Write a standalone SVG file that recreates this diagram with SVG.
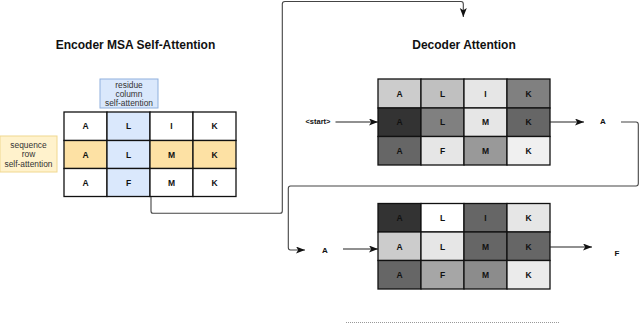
<svg xmlns="http://www.w3.org/2000/svg" width="640" height="323" viewBox="0 0 640 323">
<defs>
<marker id="arr" markerUnits="userSpaceOnUse" markerWidth="10" markerHeight="8" refX="9" refY="3.5" orient="auto">
<path d="M0,0 L9,3.5 L0,7 L2.2,3.5 Z" fill="#111"/>
</marker>
<style>
.title{font-family:"Liberation Sans",Arial,sans-serif;font-weight:bold;font-size:12px;fill:#111;text-anchor:middle}
.cell{stroke:#111;stroke-width:1.3}
.lt{font-family:"Liberation Sans",Arial,sans-serif;font-weight:bold;font-size:8.5px;fill:#111;text-anchor:middle;dominant-baseline:central}
.lab{font-family:"Liberation Sans",Arial,sans-serif;font-size:8.4px;fill:#333;text-anchor:middle;dominant-baseline:central}
.conn{fill:none;stroke:#444;stroke-width:1.1}
.arrowline{fill:none;stroke:#222;stroke-width:1.1}
</style>
</defs>
<rect width="640" height="323" fill="#fff"/>

<text class="title" x="135.5" y="49">Encoder MSA Self-Attention</text>
<text class="title" x="464" y="48.5">Decoder Attention</text>

<g id="residue-label">
<rect x="100" y="79" width="58" height="29" fill="#dae8fc" stroke="#8fb0dd" stroke-width="1"/>
<text class="lab" x="129" y="84.5">residue</text>
<text class="lab" x="129" y="94">column</text>
<text class="lab" x="129" y="103.3">self-attention</text>
</g>

<g id="sequence-label">
<rect x="0" y="136" width="57" height="36" fill="#fff2cc" stroke="#f0d890" stroke-width="1"/>
<text class="lab" x="28.5" y="145">sequence</text>
<text class="lab" x="28.5" y="154.3">row</text>
<text class="lab" x="28.5" y="163.5">self-attention</text>
</g>

<g id="encoder-grid">
<rect class="cell" x="64" y="112" width="43" height="28.5" fill="#fff"/>
<rect class="cell" x="107" y="112" width="43" height="28.5" fill="#dae8fc"/>
<rect class="cell" x="150" y="112" width="43" height="28.5" fill="#fff"/>
<rect class="cell" x="193" y="112" width="43" height="28.5" fill="#fff"/>
<rect class="cell" x="64" y="140.5" width="43" height="28" fill="#fde1a4"/>
<rect class="cell" x="107" y="140.5" width="43" height="28" fill="#dae8fc"/>
<rect class="cell" x="150" y="140.5" width="43" height="28" fill="#fde1a4"/>
<rect class="cell" x="193" y="140.5" width="43" height="28" fill="#fde1a4"/>
<rect class="cell" x="64" y="168.5" width="43" height="28" fill="#fff"/>
<rect class="cell" x="107" y="168.5" width="43" height="28" fill="#dae8fc"/>
<rect class="cell" x="150" y="168.5" width="43" height="28" fill="#fff"/>
<rect class="cell" x="193" y="168.5" width="43" height="28" fill="#fff"/>
<text class="lt" x="85.5" y="126">A</text><text class="lt" x="128.5" y="126">L</text><text class="lt" x="171.5" y="126">I</text><text class="lt" x="214.5" y="126">K</text>
<text class="lt" x="85.5" y="154.5">A</text><text class="lt" x="128.5" y="154.5">L</text><text class="lt" x="171.5" y="154.5">M</text><text class="lt" x="214.5" y="154.5">K</text>
<text class="lt" x="85.5" y="182.5">A</text><text class="lt" x="128.5" y="182.5">F</text><text class="lt" x="171.5" y="182.5">M</text><text class="lt" x="214.5" y="182.5">K</text>
</g>

<g id="decoder-grid-1">
<rect class="cell" x="378" y="79" width="43" height="29" fill="#cccccc"/>
<rect class="cell" x="421" y="79" width="43" height="29" fill="#c0c0c0"/>
<rect class="cell" x="464" y="79" width="43" height="29" fill="#e6e6e6"/>
<rect class="cell" x="507" y="79" width="43" height="29" fill="#808080"/>
<rect class="cell" x="378" y="108" width="43" height="28.5" fill="#333333"/>
<rect class="cell" x="421" y="108" width="43" height="28.5" fill="#808080"/>
<rect class="cell" x="464" y="108" width="43" height="28.5" fill="#e6e6e6"/>
<rect class="cell" x="507" y="108" width="43" height="28.5" fill="#666666"/>
<rect class="cell" x="378" y="136.5" width="43" height="28.5" fill="#666666"/>
<rect class="cell" x="421" y="136.5" width="43" height="28.5" fill="#e6e6e6"/>
<rect class="cell" x="464" y="136.5" width="43" height="28.5" fill="#999999"/>
<rect class="cell" x="507" y="136.5" width="43" height="28.5" fill="#f0f0f0"/>
<text class="lt" x="399.5" y="93.5">A</text><text class="lt" x="442.5" y="93.5">L</text><text class="lt" x="485.5" y="93.5">I</text><text class="lt" x="528.5" y="93.5">K</text>
<text class="lt" x="399.5" y="122">A</text><text class="lt" x="442.5" y="122">L</text><text class="lt" x="485.5" y="122">M</text><text class="lt" x="528.5" y="122">K</text>
<text class="lt" x="399.5" y="151">A</text><text class="lt" x="442.5" y="151">F</text><text class="lt" x="485.5" y="151">M</text><text class="lt" x="528.5" y="151">K</text>
</g>

<g id="decoder-grid-2">
<rect class="cell" x="378" y="203.5" width="43" height="28.5" fill="#333333"/>
<rect class="cell" x="421" y="203.5" width="43" height="28.5" fill="#ffffff"/>
<rect class="cell" x="464" y="203.5" width="43" height="28.5" fill="#666666"/>
<rect class="cell" x="507" y="203.5" width="43" height="28.5" fill="#e6e6e6"/>
<rect class="cell" x="378" y="232" width="43" height="28.5" fill="#cccccc"/>
<rect class="cell" x="421" y="232" width="43" height="28.5" fill="#e6e6e6"/>
<rect class="cell" x="464" y="232" width="43" height="28.5" fill="#666666"/>
<rect class="cell" x="507" y="232" width="43" height="28.5" fill="#666666"/>
<rect class="cell" x="378" y="260.5" width="43" height="28.5" fill="#666666"/>
<rect class="cell" x="421" y="260.5" width="43" height="28.5" fill="#a6a6a6"/>
<rect class="cell" x="464" y="260.5" width="43" height="28.5" fill="#8c8c8c"/>
<rect class="cell" x="507" y="260.5" width="43" height="28.5" fill="#ebebeb"/>
<text class="lt" x="399.5" y="218">A</text><text class="lt" x="442.5" y="218">L</text><text class="lt" x="485.5" y="218">I</text><text class="lt" x="528.5" y="218">K</text>
<text class="lt" x="399.5" y="246.5">A</text><text class="lt" x="442.5" y="246.5">L</text><text class="lt" x="485.5" y="246.5">M</text><text class="lt" x="528.5" y="246.5">K</text>
<text class="lt" x="399.5" y="275">A</text><text class="lt" x="442.5" y="275">F</text><text class="lt" x="485.5" y="275">M</text><text class="lt" x="528.5" y="275">K</text>
</g>

<g id="start-label"><text class="lt" x="318" y="121" style="font-size:7.5px">&lt;start&gt;</text></g>
<g id="output-a"><text class="lt" x="603" y="121" style="font-size:8px">A</text></g>
<g id="input-a"><text class="lt" x="325" y="250" style="font-size:8px">A</text></g>
<g id="output-f"><text class="lt" x="617" y="253" style="font-size:8px">F</text></g>

<g id="connectors">
<path class="conn" d="M151,197 V211 Q151,213.3 153,213.3 H280 Q282.3,213.3 282.3,211 V4 Q282.3,1.5 285,1.5 H461 Q463.3,1.5 463.3,4 V17" marker-end="url(#arr)"/>
<path class="arrowline" d="M335.5,122 H378" marker-end="url(#arr)"/>
<path class="arrowline" d="M550,122 H584" marker-end="url(#arr)"/>
<path class="conn" d="M621,122 H636 Q638.3,122 638.3,124.5 V183.5 Q638.3,186 636,186 H290.5 Q288.3,186 288.3,188.5 V247.5 Q288.3,250 290.5,250 H305" marker-end="url(#arr)"/>
<path class="arrowline" d="M343,249 H378" marker-end="url(#arr)"/>
<path class="arrowline" d="M550,247 H592" marker-end="url(#arr)"/>
</g>

<path d="M346,322.5 H560" stroke="#999" stroke-width="1" stroke-dasharray="1,1" fill="none"/>
</svg>
